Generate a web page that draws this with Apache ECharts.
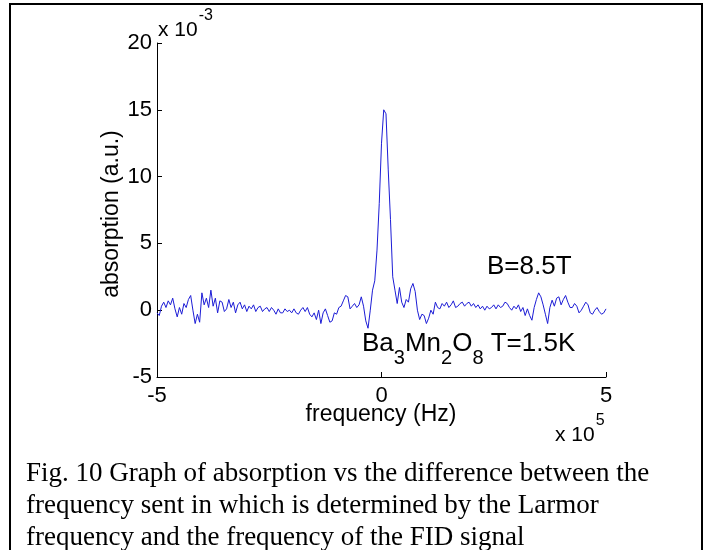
<!DOCTYPE html>
<html>
<head>
<meta charset="utf-8">
<script src="https://cdn.jsdelivr.net/npm/echarts@6/dist/echarts.min.js"></script>
<style>
  html, body { margin: 0; padding: 0; background: #fff; }
  #main { width: 714px; height: 550px; }
</style>
</head>
<body>
<div id="main"></div>
<script>
// frequency in units of 1e5 Hz, sampled every 0.05 from -5 to 5
const freqStart = -5
const freqStep = 0.05
// absorption in units of 1e-3 (a.u.)
const absorption = [
  -0.2, -0.4, 0.3, 0.6, 0.2, 0.7, 0.4, 0.9, 0.1, -0.5,
  0.2, -0.3, 0.5, 0.2, 0.8, 1.1, 0.0, -1.0, -0.3, -0.9,
  1.3, 0.4, 0.9, 0.2, 1.5, 0.3, 0.9, -0.2, 0.7, 0.6,
  -0.1, 0.1, 0.8, 0.2, 0.6, -0.2, 0.4, 0.6, 0.1, 0.4,
  -0.1, 0.3, 0.1, 0.4, -0.1, 0.2, 0.3, -0.1, 0.1, 0.2,
  -0.1, 0.2, 0.0, -0.3, 0.1, -0.2, -0.2, 0.1, -0.1, 0.0,
  -0.2, 0.1, -0.2, -0.3, 0.0, 0.2, -0.1, 0.2, -0.3, -0.5,
  -0.2, -0.7, 0.0, -1.0, -0.2, 0.1, -0.4, -0.9, -0.8, -0.2,
  -0.3, 0.2, 0.3, 0.7, 1.1, 1.0, 0.1, 0.3, 0.5, 0.2,
  0.4, 1.0, 0.3, -0.8, -1.35, 0.0, 1.5, 2.2, 4.5, 8.0,
  12.5, 15.0, 14.7, 10.5, 6.8, 2.5, 1.5, 0.5, 1.7, 0.6,
  0.2, 0.8, 0.6, 1.6, 2.0, 1.4, 0.0, -0.7, -0.3, -0.4,
  -1.0, -0.6, 0.0, -0.3, 0.6, 0.2, 0.1, 0.5, 0.3, 0.6,
  0.2, 0.4, 0.7, 0.2, 0.3, 0.5, 0.6, 0.3, 0.5, 0.6,
  0.3, 0.5, 0.2, 0.4, 0.1, 0.3, 0.0, 0.3, 0.1, 0.2,
  0.4, 0.1, 0.4, 0.2, 0.3, 0.6, 0.5, 0.2, 0.0, 0.3,
  0.1, 0.4, -0.1, 0.2, -0.4, 0.1, -0.4, -0.75, 0.2, 0.8,
  1.3, 1.0, 0.4, -0.3, -1.0, 0.2, 0.75, 0.3, 0.9, 1.0,
  0.4, 0.8, 1.1, 0.6, 0.2, 0.2, 0.5, 0.3, -0.2, 0.0,
  0.3, 0.6, 0.4, -0.2, -0.3, 0.0, 0.2, -0.1, -0.3, -0.2,
  0.1
]
const captionLines = [
  'Fig. 10 Graph of absorption vs the difference between the',
  'frequency sent in which is determined by the Larmor',
  'frequency and the frequency of the FID signal'
]

const sans = '"Liberation Sans", Arial, Helvetica, sans-serif'
const serif = '"Liberation Serif", "Times New Roman", serif'

let points = absorption.map((v, i) => [+(freqStart + i * freqStep).toFixed(2), v])

const chart = echarts.init(document.getElementById('main'), null, { renderer: 'canvas' })

chart.setOption({
  animation: false,
  backgroundColor: '#fff',
  grid: { left: 157, right: 108, top: 43, bottom: 173, containLabel: false },
  xAxis: {
    type: 'value',
    min: -5, max: 5, interval: 5,
    axisLine: { onZero: false, lineStyle: { color: '#000', width: 1 } },
    axisTick: { inside: true, length: 5, lineStyle: { color: '#000' } },
    axisLabel: { color: '#000', fontSize: 22, fontFamily: sans, margin: 8 },
    splitLine: { show: false }
  },
  yAxis: {
    type: 'value',
    min: -5, max: 20, interval: 5,
    axisLine: { show: true, onZero: false, lineStyle: { color: '#000', width: 1 } },
    axisTick: { show: true, inside: true, length: 5, lineStyle: { color: '#000' } },
    axisLabel: { color: '#000', fontSize: 22, fontFamily: sans, margin: 5 },
    splitLine: { show: false }
  },
  series: [{
    type: 'line',
    data: points,
    showSymbol: false,
    lineStyle: { color: '#1c1cd6', width: 1 }
  }],
  graphic: [
    // page border of the scanned figure
    { type: 'rect', shape: { x: 10, y: 4, width: 692, height: 600 },
      style: { fill: 'none', stroke: '#000', lineWidth: 2 } },
    // y axis name
    { type: 'text', x: 112, y: 214, rotation: Math.PI / 2,
      style: { text: 'absorption (a.u.)', font: '23px ' + sans, fill: '#000',
        align: 'center', verticalAlign: 'middle', textAlign: 'center', textVerticalAlign: 'middle' } },
    // x axis name
    { type: 'text', x: 381, y: 415,
      style: { text: 'frequency (Hz)', font: '23px ' + sans, fill: '#000',
        align: 'center', verticalAlign: 'middle', textAlign: 'center', textVerticalAlign: 'middle' } },
    // y multiplier
    { type: 'text', x: 158, y: 8,
      style: { text: '{m|x 10}{p|-3}', fill: '#000',
        rich: {
          m: { fontSize: 21, fontFamily: sans, verticalAlign: 'top', padding: [12, 0, 0, 0] },
          p: { fontSize: 16, fontFamily: sans, verticalAlign: 'top', padding: [0, 0, 0, 1] }
        } } },
    // x multiplier
    { type: 'text', x: 555, y: 413,
      style: { text: '{m|x 10}{p|5}', fill: '#000',
        rich: {
          m: { fontSize: 21, fontFamily: sans, verticalAlign: 'top', padding: [12, 0, 0, 0] },
          p: { fontSize: 16, fontFamily: sans, verticalAlign: 'top', padding: [0, 0, 0, 1] }
        } } },
    // annotations
    { type: 'text', x: 487, y: 254,
      style: { text: 'B=8.5T', font: '26px ' + sans, fill: '#000' } },
    { type: 'text', x: 362, y: 331,
      style: { text: '{m|Ba}{s|3}{m|Mn}{s|2}{m|O}{s|8}{m| T=1.5K}', fill: '#000',
        rich: {
          m: { fontSize: 26, fontFamily: sans, verticalAlign: 'top', lineHeight: 28 },
          s: { fontSize: 20, fontFamily: sans, verticalAlign: 'top', lineHeight: 22, padding: [17, 0, 0, 0] }
        } } },
    // caption
    ...captionLines.map((line, k) => ({
      type: 'text', x: 26, y: 474 + k * 32,
      style: { text: line, font: '27px ' + serif, fill: '#000',
        verticalAlign: 'middle', textVerticalAlign: 'middle' }
    }))
  ]
})
</script>
</body>
</html>
